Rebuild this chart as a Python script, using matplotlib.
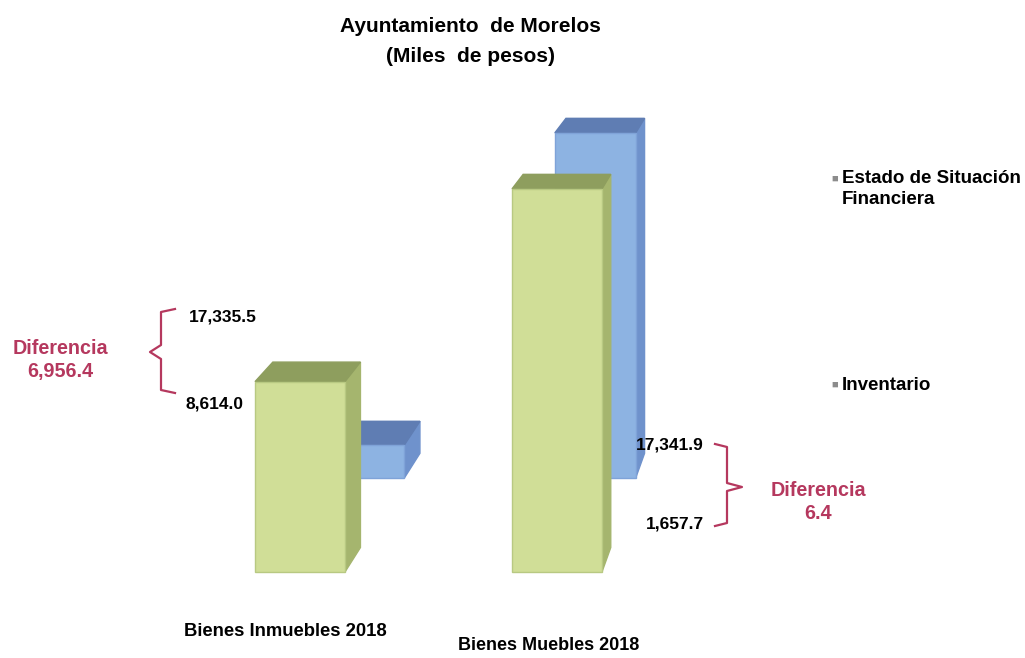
import matplotlib
matplotlib.use('Agg')
import matplotlib.pyplot as plt
from matplotlib.patches import Polygon

# Data (miles de pesos)
categories = ['Bienes Inmuebles 2018', 'Bienes Muebles 2018']
inventario = [8614.0, 17335.5]
estado_sf = [1657.7, 17341.9]
series_names = ['Estado de Situación\nFinanciera', 'Inventario']
diff_labels = ['Diferencia\n6,956.4', 'Diferencia\n6.4']
value_labels = [('17,335.5', '8,614.0'), ('17,341.9', '1,657.7')]

W, H = 1025, 658
plt.rcParams['font.family'] = ['Liberation Sans', 'DejaVu Sans']

fig = plt.figure(figsize=(W / 100, H / 100), dpi=100)
fig.patch.set_facecolor('white')

# full-figure axes: x in category units, y in value units
px_per_cat = 257.0
px_per_val = 0.0221
x0_px, base_px = 300.0, 572.0
ax = fig.add_axes([0, 0, 1, 1])
ax.set_xlim(-x0_px / px_per_cat, (W - x0_px) / px_per_cat)
ax.set_ylim(-(H - base_px) / px_per_val, base_px / px_per_val)
ax.axis('off')

# fake perspective: vanishing point (upper right) and depth fractions
vp = ((940 - x0_px) / px_per_cat, (base_px + 370) / px_per_val)
bar_w = 0.35
depth = 0.026


def proj(p, f):
    return (p[0] + f * (vp[0] - p[0]), p[1] + f * (vp[1] - p[1]))


def box(x, v, f0, front, top, side, edge):
    l, r = x - bar_w / 2, x + bar_w / 2
    f1 = f0 + depth
    # front face through ax.bar (uniform scaling toward vp keeps it a rectangle)
    (fl, fb), (fr, ft) = proj((l, 0), f0), proj((r, v), f0)
    corners = {k: (proj(p, f0), proj(p, f1)) for k, p in
               {'lt': (l, v), 'rt': (r, v), 'rb': (r, 0)}.items()}
    ax.add_patch(Polygon([corners['rb'][0], corners['rt'][0], corners['rt'][1], corners['rb'][1]],
                         closed=True, facecolor=side, edgecolor=side, lw=1, zorder=3 - f0))
    ax.add_patch(Polygon([corners['lt'][0], corners['rt'][0], corners['rt'][1], corners['lt'][1]],
                         closed=True, facecolor=top, edgecolor=top, lw=1, zorder=3 - f0))
    ax.bar((fl + fr) / 2, ft - fb, width=fr - fl, bottom=fb, color=front,
           edgecolor=edge, linewidth=1.0, zorder=3 - f0)


xs = list(range(len(categories)))
for x, v in zip(xs, estado_sf):
    box(x, v, 0.1, '#8DB3E2', '#5F7DB3', '#6F92CC', '#7FA3D8')
for x, v in zip(xs, inventario):
    box(x, v, 0.0, '#D0DE97', '#8E9E5E', '#A5B56E', '#B8C982')


def ftext(x, y, s, **kw):
    fig.text(x / W, 1 - y / H, s, **kw)


# title
ftext(470, 27, 'Ayuntamiento  de Morelos', ha='center', va='center',
      fontsize=15, fontweight='bold')
ftext(470, 57, '(Miles  de pesos)', ha='center', va='center',
      fontsize=15, fontweight='bold')

# category labels
ftext(285, 632, categories[0], ha='center', va='center', fontsize=13.3, fontweight='bold')
ftext(549, 646, categories[1], ha='center', va='center', fontsize=13, fontweight='bold')

# legend
ftext(835, 179, '\u25a0', ha='center', va='center', fontsize=8, color='#8c8c8c')
ftext(842, 189, series_names[0], ha='left', va='center', fontsize=13.5,
      fontweight='bold', linespacing=1.3)
ftext(835, 385, '\u25a0', ha='center', va='center', fontsize=8, color='#8c8c8c')
ftext(842, 385, series_names[1], ha='left', va='center', fontsize=13.5, fontweight='bold')

red = '#B5385E'

# bracket overlay in pixel units
br = fig.add_axes([0, 0, 1, 1], facecolor='none')
br.set_xlim(0, W)
br.set_ylim(H, 0)
br.axis('off')

# bracket Inmuebles
br.plot([175, 161, 161, 150, 161, 161, 175], [309, 312, 345, 352, 359, 390, 393],
        color=red, lw=1.6, solid_joinstyle='round')
ftext(189, 317, value_labels[0][0], ha='left', va='center', fontsize=12.5, fontweight='bold')
ftext(185, 404, value_labels[0][1], ha='left', va='center', fontsize=12.5, fontweight='bold')
ftext(60, 360, diff_labels[0], ha='center', va='center', fontsize=14.2, fontweight='bold',
      color=red, linespacing=1.25)

# bracket Muebles
br.plot([715, 727, 727, 742, 727, 727, 715], [444, 447, 483, 487, 491, 523, 526],
        color=red, lw=1.6, solid_joinstyle='round')
ftext(704, 445, value_labels[1][0], ha='right', va='center', fontsize=12.5, fontweight='bold')
ftext(704, 524, value_labels[1][1], ha='right', va='center', fontsize=12.5, fontweight='bold')
ftext(818, 502, diff_labels[1], ha='center', va='center', fontsize=14.2, fontweight='bold',
      color=red, linespacing=1.25)

fig.savefig('out.png', dpi=100, facecolor='white')
